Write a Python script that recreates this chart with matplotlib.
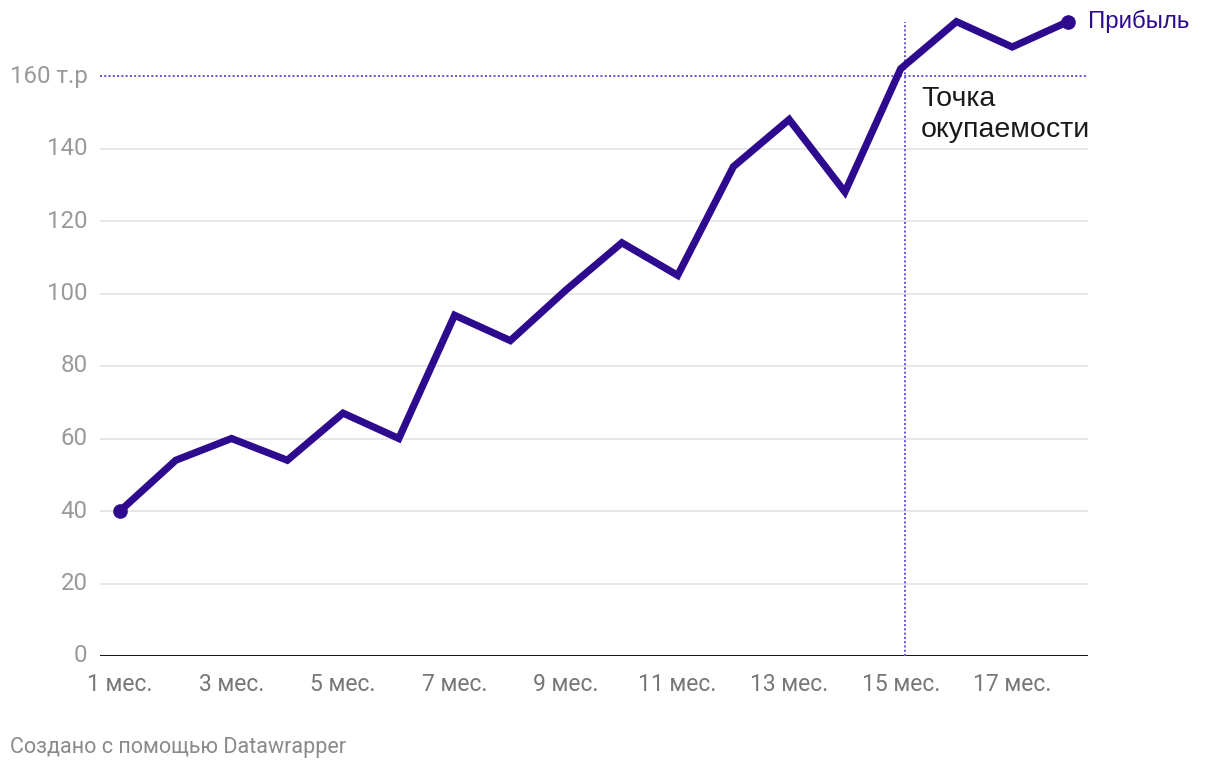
import matplotlib.pyplot as plt
import numpy as np

plt.rcParams["font.family"] = ["Roboto", "DejaVu Sans"]

months = list(range(1, 19))
profit = [40, 54, 60, 54, 67, 60, 94, 87, 101, 114, 105, 135, 148, 128, 162, 175, 168, 175]
yticks = [0, 20, 40, 60, 80, 100, 120, 140, 160]
ytick_labels = ["0", "20", "40", "60", "80", "100", "120", "140", "160 т.р"]
xticks = [1, 3, 5, 7, 9, 11, 13, 15, 17]
xtick_labels = [f"{m} мес." for m in xticks]
breakeven_value = 160
breakeven_month = 15.08

line_color = "#2d0a8e"
ref_color = "#6a50d8"
px = 1 / 55.76  # one pixel in month units

fig = plt.figure(figsize=(12.2, 7.72), dpi=100)
ax = fig.add_axes([100 / 1220, 116 / 772, 988 / 1220, 652.5 / 772])
ax.set_xlim(1 - 20 * px, 18 + 20 * px)
ax.set_ylim(0, 180)

for y in yticks[1:-1]:
    ax.axhline(y, color="#e3e3e3", lw=1.2, zorder=1)
ax.axhline(0, color="#1a1a1a", lw=2.2, zorder=2)
ax.axhline(breakeven_value, color=ref_color, lw=1.4, ls=(0, (1, 1.2)), zorder=2)
ax.plot([breakeven_month, breakeven_month], [0, 175], color=ref_color, lw=1.4,
        ls=(0, (1, 1.2)), zorder=2)

ax.plot(months, profit, color=line_color, lw=5.2, solid_joinstyle="miter",
        solid_capstyle="round", zorder=3)
ax.plot([months[0], months[-1]], [profit[0], profit[-1]], "o", color=line_color,
        ms=9.5, zorder=4)

ax.text(18 + 20 * px, profit[-1], "Прибыль", color=line_color, fontsize=17.3,
        va="center", ha="left", family=["Liberation Sans", "DejaVu Sans"])
ax.text(breakeven_month + 16 * px, 149.3, "Точка\nокупаемости", color="#1a1a1a",
        fontsize=20.5, va="center", ha="left", linespacing=1.25,
        family=["Liberation Sans", "DejaVu Sans"])

for s in ax.spines.values():
    s.set_visible(False)
ax.set_yticks(yticks)
ax.set_yticklabels(ytick_labels)
ax.set_xticks(xticks)
ax.set_xticklabels(xtick_labels)
ax.tick_params(axis="y", length=0, pad=9, labelsize=17.3, labelcolor="#9a9a9a")
ax.tick_params(axis="x", length=0, pad=12.5, labelsize=16.5, labelcolor="#777777")
for lbl in ax.get_yticklabels():
    lbl.set_verticalalignment("center")

fig.text(10 / 1220, 1 - 748 / 772, "Создано с помощью Datawrapper", color="#8a8a8a",
         fontsize=15.5, va="center", ha="left")

fig.savefig("out.png", dpi=100)
